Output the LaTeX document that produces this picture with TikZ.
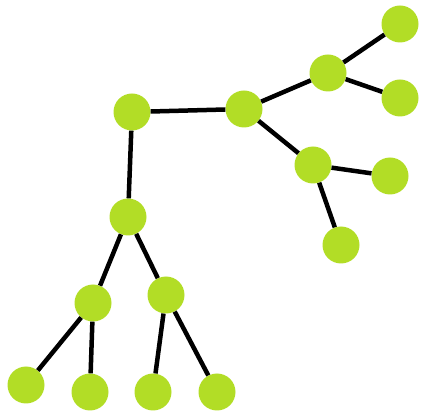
\documentclass[tikz,border=0pt]{standalone}
\definecolor{leafgreen}{RGB}{178,221,38}
\begin{document}
\begin{tikzpicture}[x=1pt,y=-1pt,
  dot/.style={circle,fill=leafgreen,minimum size=37pt,inner sep=0pt},
  edge/.style={line width=4.5pt,black}]
\useasboundingbox (0,0) rectangle (421,414);
\node[dot] (A) at (132,112) {};
\node[dot] (B) at (244,109) {};
\node[dot] (C) at (328,73) {};
\node[dot] (D) at (400,24) {};
\node[dot] (E) at (400,98) {};
\node[dot] (F) at (313,165) {};
\node[dot] (G) at (390,176) {};
\node[dot] (H) at (341,245) {};
\node[dot] (I) at (128,217) {};
\node[dot] (J) at (93,303) {};
\node[dot] (K) at (166,295) {};
\node[dot] (L) at (26,385) {};
\node[dot] (M) at (90,392) {};
\node[dot] (N) at (153,392) {};
\node[dot] (O) at (217,392) {};
\foreach \a/\b in {A/B,B/C,C/D,C/E,B/F,F/G,F/H,A/I,I/J,I/K,J/L,J/M,K/N,K/O}
  \draw[edge] (\a) -- (\b);
\end{tikzpicture}
\end{document}
